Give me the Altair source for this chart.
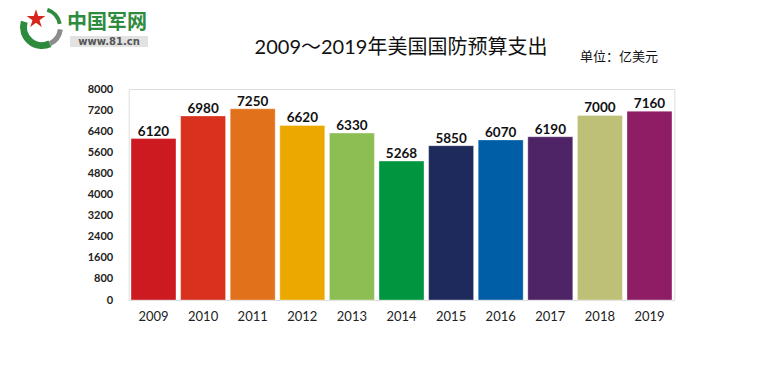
import altair as alt
import pandas as pd

years = ["2009", "2010", "2011", "2012", "2013", "2014", "2015", "2016", "2017", "2018", "2019"]
values = [6120, 6980, 7250, 6620, 6330, 5268, 5850, 6070, 6190, 7000, 7160]
colors = ["#CC1A20", "#D8321F", "#E2711B", "#EDA800", "#8DBE53", "#00953F",
          "#1F2A5C", "#005EA6", "#4E2466", "#BFC077", "#8E1D65"]
y_ticks = [0, 800, 1600, 2400, 3200, 4000, 4800, 5600, 6400, 7200, 8000]
title_text = ["2009～2019年美国国防预算支出"]
unit_text = ["单位：亿美元"]
logo_cn = ["中国军网"]
logo_url = ["www.81.cn"]

FONT = "Lato, 'Noto Sans CJK SC', sans-serif"
CJK = "'Noto Sans CJK SC', Lato, sans-serif"

# plot origin in page coordinates
OX, OY = 128.7, 89.0
W, H = 545.6, 211.0

df = pd.DataFrame({"year": years, "value": values})

base = alt.Chart(df).encode(
    x=alt.X("year:N", sort=years,
            scale=alt.Scale(paddingInner=0.093, paddingOuter=0.0465),
            axis=alt.Axis(title=None, labelAngle=0, domain=False, ticks=False,
                          labelPadding=10, labelFontSize=13, labelFont=FONT,
                          labelColor="#222")),
    y=alt.Y("value:Q", scale=alt.Scale(domain=[0, 8000], nice=False),
            axis=alt.Axis(title=None, values=y_ticks, format="d", domain=False, ticks=False,
                          grid=False, labelPadding=16, labelFontSize=11,
                          labelFont=FONT, labelFontWeight="bold",
                          labelColor="#222")),
)

bars = base.mark_bar(stroke="white", strokeOpacity=0.35, strokeWidth=1).encode(
    color=alt.Color("year:N", scale=alt.Scale(domain=years, range=colors), legend=None)
)
labels = base.mark_text(baseline="alphabetic", dy=-3, fontSize=13.5, fontWeight="bold",
                        font=FONT, color="#111").encode(text="value:Q")

title = alt.Chart(pd.DataFrame({"t": title_text})).mark_text(
    fontSize=20, font=FONT, color="#111", align="center", baseline="middle"
).encode(x=alt.value(401 - OX), y=alt.value(48 - OY), text="t:N")

unit = alt.Chart(pd.DataFrame({"t": unit_text})).mark_text(
    fontSize=13, font=CJK, color="#111", align="left", baseline="middle"
).encode(x=alt.value(580 - OX), y=alt.value(57 - OY), text="t:N")

# logo
logo_arc = alt.Chart(pd.DataFrame({"a": [1]})).mark_arc(
    color="#2E8B3E", radius=22, radius2=15, theta=2.7, theta2=5.0
).encode(x=alt.value(42 - OX), y=alt.value(27 - OY))
logo_wall = alt.Chart(pd.DataFrame({"a": [1]})).mark_arc(
    color="#8C8C8C", radius=21, radius2=16, theta=1.7, theta2=2.7
).encode(x=alt.value(42 - OX), y=alt.value(27 - OY))
logo_top = alt.Chart(pd.DataFrame({"a": [1]})).mark_arc(
    color="#2E8B3E", radius=20, radius2=16, theta=0.3, theta2=1.4
).encode(x=alt.value(42 - OX), y=alt.value(27 - OY))
logo_star = alt.Chart(pd.DataFrame({"a": [1]})).mark_point(
    shape="M0,-1L0.2245,-0.309L0.951,-0.309L0.363,0.118L0.588,0.809L0,0.382L-0.588,0.809L-0.363,0.118L-0.951,-0.309L-0.2245,-0.309Z",
    filled=True, color="#D7261E", size=380, opacity=1
).encode(x=alt.value(36 - OX), y=alt.value(19 - OY))
logo_text = alt.Chart(pd.DataFrame({"t": logo_cn})).mark_text(
    fontSize=20, font=CJK, fontWeight="bold", color="#2E8B3E", align="left", baseline="middle"
).encode(x=alt.value(67 - OX), y=alt.value(23 - OY), text="t:N")
logo_box = alt.Chart(pd.DataFrame({"a": [1]})).mark_rect(color="#E2E2E2").encode(
    x=alt.value(70 - OX), x2=alt.value(148 - OX), y=alt.value(36 - OY), y2=alt.value(47 - OY)
)
logo_url_t = alt.Chart(pd.DataFrame({"t": logo_url})).mark_text(
    fontSize=10, font="'DejaVu Sans', sans-serif", fontWeight="bold", color="#555",
    align="center", baseline="middle"
).encode(x=alt.value(109 - OX), y=alt.value(42 - OY), text="t:N")

chart = alt.layer(
    bars, labels, title, unit, logo_arc, logo_wall, logo_top, logo_star,
    logo_text, logo_box, logo_url_t
).properties(
    width=W, height=H,
    autosize=alt.AutoSizeParams(type="none"),
    padding={"left": OX - 8, "top": OY - 8, "right": 744 - (OX - 8) - W, "bottom": 355 - (OY - 8) - H},
).configure_view(stroke=None).configure(background="white")

chart.save("out.html", embed_options={"renderer": "svg", "actions": False})
